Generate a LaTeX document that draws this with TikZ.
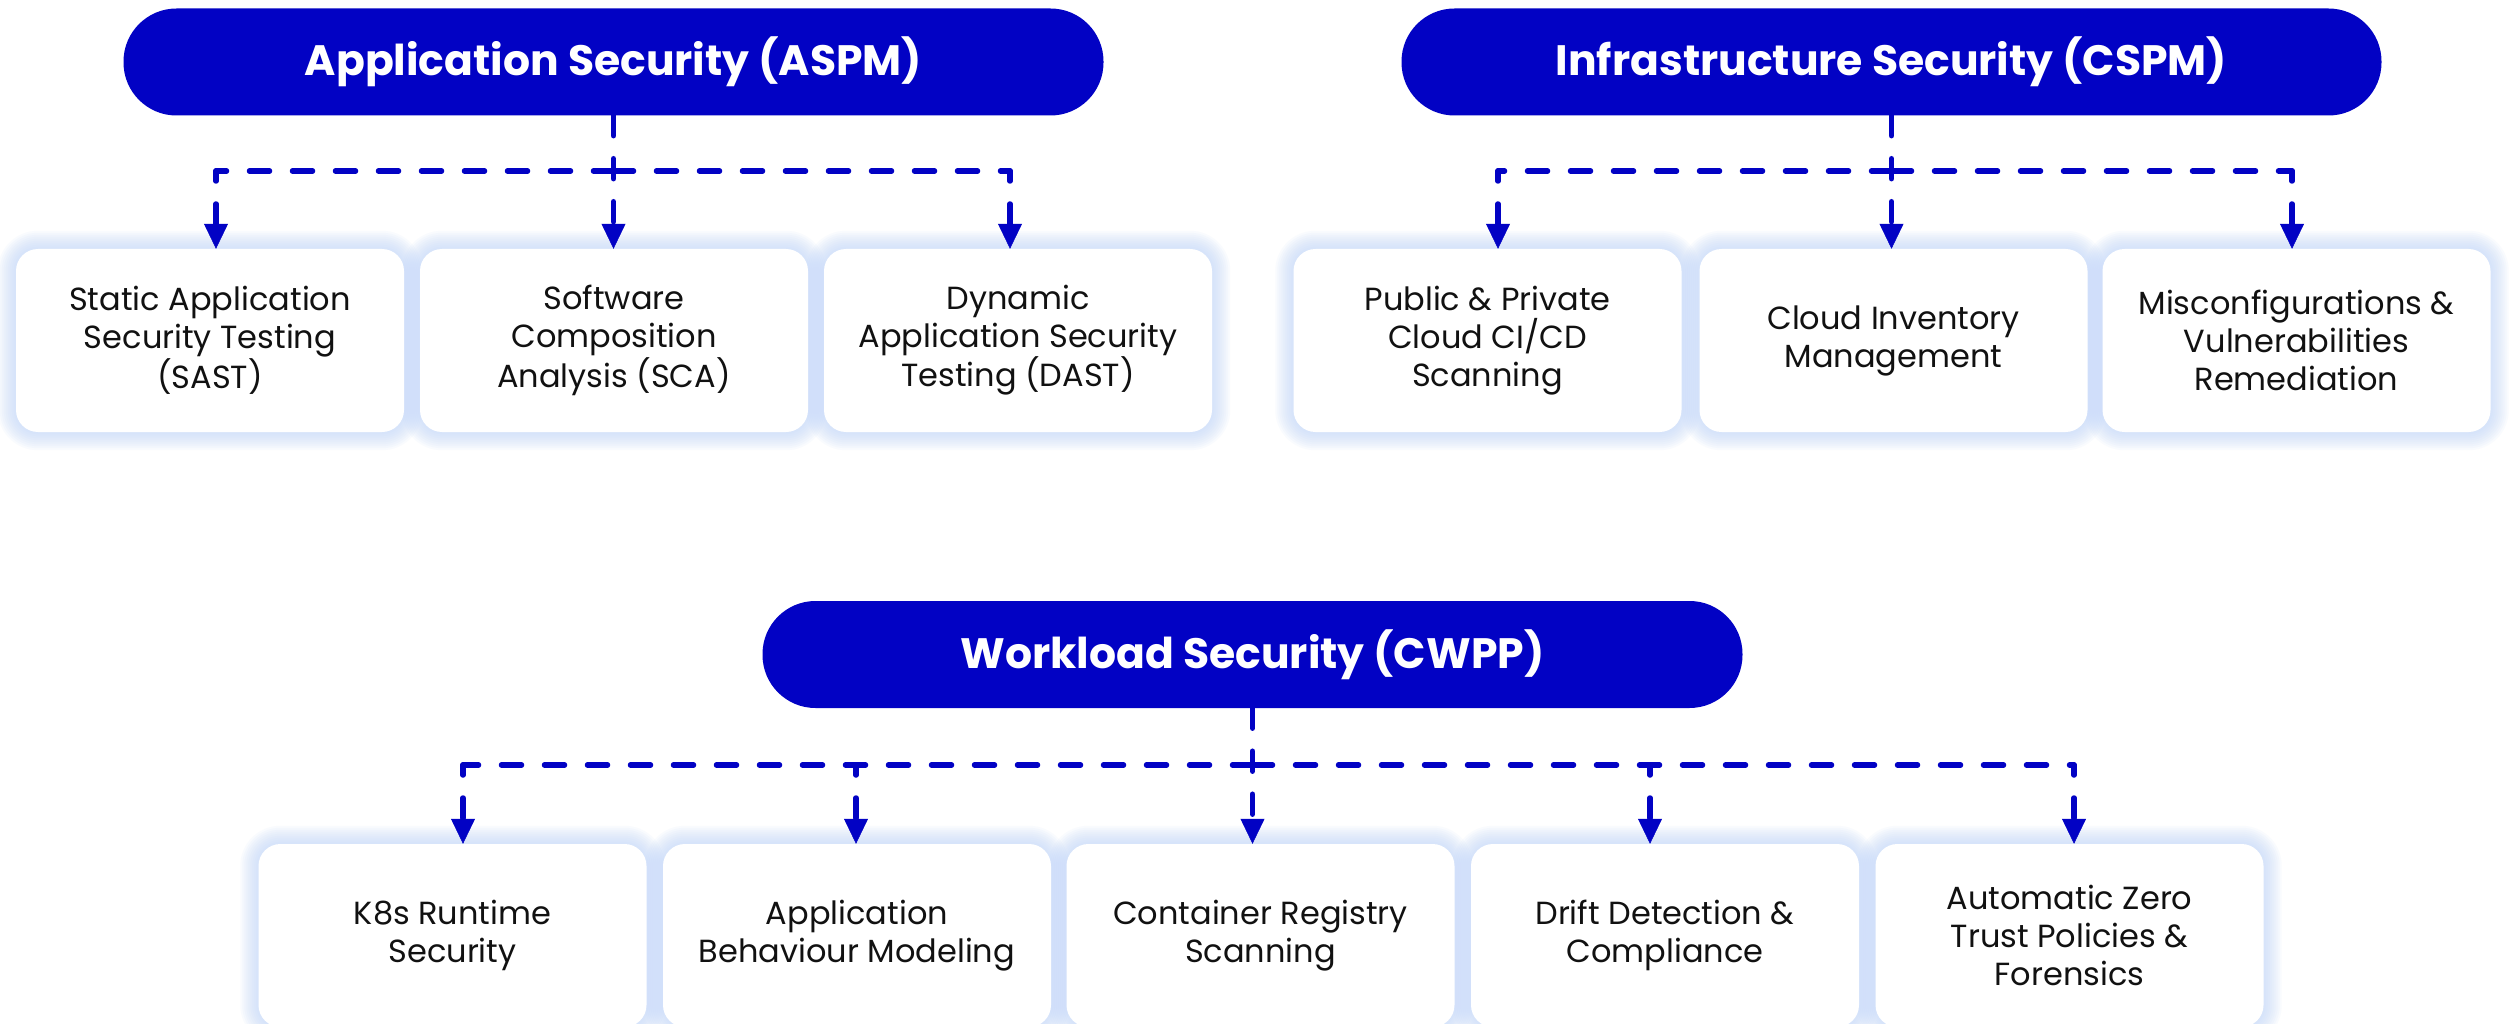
\documentclass[tikz,border=0pt]{standalone}
\usepackage{fontspec}
\setmainfont{Poppins}
\usetikzlibrary{arrows.meta,backgrounds,calc}
\definecolor{brand}{RGB}{2,2,196}
\definecolor{glowc}{RGB}{190,212,250}
\definecolor{txt}{RGB}{17,17,17}
\begin{document}
\begin{tikzpicture}[x=1pt,y=-1pt,
  pill/.style={fill=brand, rounded corners=53pt, minimum width=980pt, minimum height=107pt, inner sep=0pt, text=white, font=\bfseries\fontsize{42.5}{50}\selectfont},
  card/.style={fill=white, rounded corners=22pt, minimum width=388pt, minimum height=183pt, inner sep=0pt, align=center, text=txt, font=\fontsize{32}{38}\selectfont},
  conn/.style={draw=brand, line width=5.5pt, line cap=round, dash pattern=on 20pt off 23pt},
  tipped/.style={-{Triangle[length=25pt,width=24pt,line width=0.5pt]}},
  branch/.style={conn, tipped, dash phase=10pt},
]
\useasboundingbox (0,0) rectangle (2513,1024);

% headers
\node[pill] (pA) at (613.5,62) {Application Security (ASPM)};
\node[pill] (pB) at (1891.5,62) {Infrastructure Security (CSPM)};
\node[pill] (pC) at (1252.5,654.5) {Workload Security (CWPP)};

% cards row 1
\node[card] (a1) at (210,340.5) {Static Application\\Security Testing\\(SAST)};
\node[card] (a2) at (614,340.5) {Software\\Composition\\Analysis (SCA)};
\node[card] (a3) at (1018,340.5) {Dynamic\\Application Security\\Testing (DAST)};
\node[card] (b1) at (1487.5,340.5) {Public \& Private\\Cloud CI/CD\\Scanning};
\node[card] (b2) at (1893.5,340.5) {Cloud Inventory\\Management};
\node[card] (b3) at (2296.5,340.5) {Misconfigurations \&\\Vulnerabilities\\Remediation};

% cards row 2
\node[card] (c1) at (452.5,935.5) {K8s Runtime\\Security};
\node[card] (c2) at (857,935.5) {Application\\Behaviour Modeling};
\node[card] (c3) at (1260.5,935.5) {Container Registry\\Scanning};
\node[card] (c4) at (1665,935.5) {Drift Detection \&\\Compliance};
\node[card] (c5) at (2069.5,935.5) {Automatic Zero\\Trust Policies \&\\Forensics};

% glow
\begin{scope}[on background layer]
  \fill[white] (0,0) rectangle (2513,1024);
  \foreach \n in {a1,a2,a3,b1,b2,b3,c1,c2,c3,c4,c5}{
    \foreach \d in {2,4,...,18}{
      \pgfmathsetmacro\rr{22+\d}
      \fill[glowc, opacity=0.09, rounded corners=\rr pt]
        ([xshift=-\d pt,yshift=-\d pt]\n.south west) rectangle ([xshift=\d pt,yshift=\d pt]\n.north east);
    }
  }
\end{scope}

% junction coordinates
\coordinate (jA) at (613.5,171);
\coordinate (jA1) at (216,171);
\coordinate (jA3) at (1010,171);
\coordinate (jB) at (1891.5,171);
\coordinate (jB1) at (1498,171);
\coordinate (jB3) at (2292,171);
\coordinate (jC) at (1252.5,765);
\coordinate (jC1) at (463,765);
\coordinate (jC2) at (856,765);
\coordinate (jC4) at (1650,765);
\coordinate (jC5) at (2074,765);

% group A
\draw[conn, tipped] (pA.south) -- (pA.south |- a2.north);
\draw[conn] (jA) -- (jA1);
\draw[conn] (jA) -- (jA3);
\draw[branch] (jA1) -- (jA1 |- a1.north);
\draw[branch] (jA3) -- (jA3 |- a3.north);

% group B
\draw[conn, tipped] (pB.south) -- (pB.south |- b2.north);
\draw[conn] (jB) -- (jB1);
\draw[conn] (jB) -- (jB3);
\draw[branch] (jB1) -- (jB1 |- b1.north);
\draw[branch] (jB3) -- (jB3 |- b3.north);

% group C
\draw[conn, tipped] (pC.south) -- (pC.south |- c3.north);
\draw[conn] (jC) -- (jC1);
\draw[conn] (jC) -- (jC5);
\draw[branch] (jC1) -- (jC1 |- c1.north);
\draw[branch] (jC2) -- (jC2 |- c2.north);
\draw[branch] (jC4) -- (jC4 |- c4.north);
\draw[branch] (jC5) -- (jC5 |- c5.north);
\end{tikzpicture}
\end{document}
